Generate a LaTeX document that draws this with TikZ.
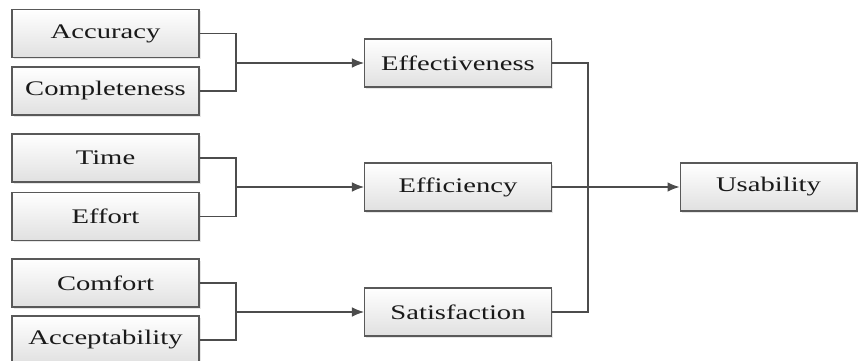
\documentclass[tikz,border=0pt]{standalone}
\usepackage{fontspec}
\setmainfont[FakeStretch=1.38]{Liberation Serif}
\usetikzlibrary{arrows.meta, shadows}

\tikzset{
	box/.style={draw=black!65, line width=0.6pt, top color=white, bottom color=black!12,
		drop shadow={opacity=0.2, shadow xshift=1pt, shadow yshift=-1pt},
		minimum width=3.74cm, minimum height=0.96cm, inner sep=0pt,
		font=\fontsize{11.8}{13}\selectfont, text=black!90},
	link/.style={draw=black!70, line width=0.6pt},
	arr/.style={link, -{Latex[length=2.4mm, width=1.9mm]}}
}

\begin{document}
\begin{tikzpicture}[x=0.02cm, y=-0.02cm]
				\useasboundingbox (0,0) rectangle (858,361);
				\clip (0,0) rectangle (858,361);
				% left column
				\node[box] (acc) at (105.5,33.5) {Accuracy};
				\node[box] (comp) at (105.5,91) {Completeness};
				\node[box] (time) at (105.5,158) {Time};
				\node[box] (effo) at (105.5,216.5) {Effort};
				\node[box] (comf) at (105.5,283) {Comfort};
				\node[box] (acce) at (105.5,340) {Acceptability};
				% middle column
				\node[box] (eff) at (458,63) {Effectiveness};
				\node[box] (effi) at (458,187) {Efficiency};
				\node[box] (sat) at (458,312) {Satisfaction};
				\node[box, minimum width=3.54cm] (use) at (768.5,187) {Usability};
				\coordinate (j1) at (236,63);
				\coordinate (j2) at (236,187);
				\coordinate (j3) at (236,312);
				\coordinate (r1) at (588,187);
				\draw[link] (acc.east) -| (j1) |- (comp.east);
				\draw[link] (time.east) -| (j2) |- (effo.east);
				\draw[link] (comf.east) -| (j3) |- (acce.east);
				\draw[arr] (j1) -- (eff.west);
				\draw[arr] (j2) -- (effi.west);
				\draw[arr] (j3) -- (sat.west);
				\draw[link] (eff.east) -| (r1) |- (sat.east);
				\draw[arr] (effi.east) -- (use.west);
			\end{tikzpicture}
\end{document}
